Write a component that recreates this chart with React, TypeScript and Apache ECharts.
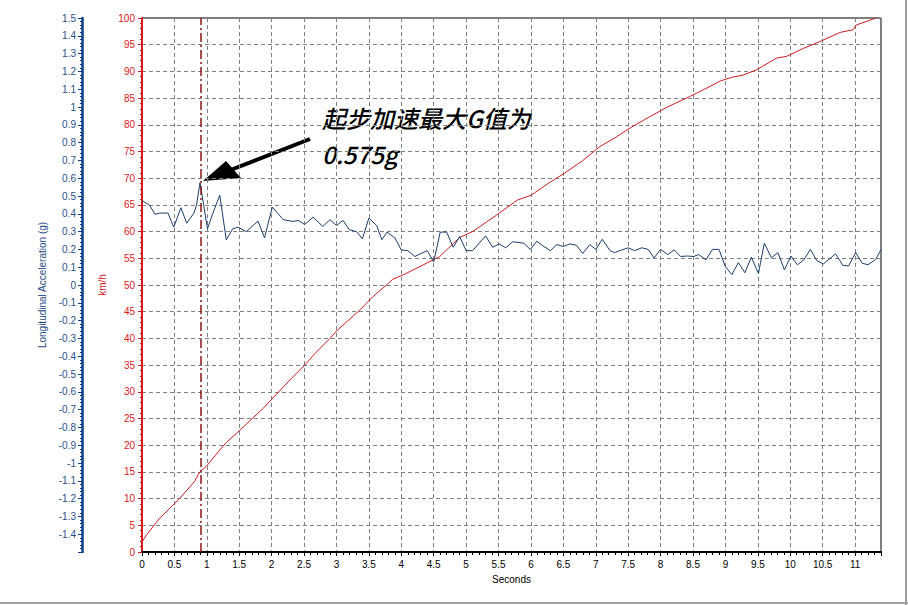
import React, { useEffect, useRef } from "react";
import * as echarts from "echarts";

// Speed (km/h) over time (s)
const speedTime = [0, 0.07, 0.27, 0.58, 0.81, 0.89, 0.99, 1.2, 1.3, 1.51, 1.71, 1.87, 2.0, 2.28, 2.51, 2.67, 2.9, 3.02, 3.36, 3.56, 3.8, 3.87, 4.03, 4.23, 4.49, 4.59, 4.9, 5.1, 5.47, 5.79, 6.0, 6.3, 6.5, 6.8, 7.06, 7.3, 7.53, 7.83, 8.1, 8.45, 8.7, 8.92, 9.1, 9.27, 9.48, 9.79, 9.94, 10.2, 10.46, 10.77, 10.97, 11.02, 11.28, 11.32];
const speedKmh = [1.9, 3.2, 6.3, 10, 13.2, 15, 16, 19.1, 20.5, 22.8, 25.1, 26.9, 28.6, 32.2, 35.0, 37.2, 40.0, 41.6, 45.3, 47.8, 50.3, 51.1, 51.9, 53.1, 54.7, 55.3, 58.9, 60, 63.1, 65.9, 66.8, 69.3, 70.8, 73.3, 75.9, 77.6, 79.4, 81.5, 83.3, 85.3, 86.8, 88.2, 88.9, 89.3, 90.3, 92.5, 92.8, 94.3, 95.6, 97.3, 97.8, 98.7, 99.8, 100];

// Longitudinal acceleration (g) over time (s)
const accelTime = [0.0, 0.12, 0.2, 0.27, 0.4, 0.49, 0.6, 0.69, 0.8, 0.84, 0.895, 1.01, 1.1, 1.2, 1.3, 1.4, 1.48, 1.61, 1.79, 1.89, 2.01, 2.18, 2.33, 2.41, 2.51, 2.64, 2.79, 2.9, 3.0, 3.1, 3.2, 3.31, 3.4, 3.5, 3.62, 3.7, 3.78, 3.9, 4.0, 4.1, 4.21, 4.29, 4.4, 4.5, 4.6, 4.7, 4.8, 4.9, 5.0, 5.1, 5.3, 5.41, 5.51, 5.61, 5.72, 5.89, 5.99, 6.09, 6.2, 6.3, 6.4, 6.5, 6.6, 6.7, 6.8, 6.91, 7.0, 7.1, 7.22, 7.29, 7.4, 7.5, 7.6, 7.71, 7.81, 7.9, 8.0, 8.11, 8.21, 8.31, 8.41, 8.51, 8.59, 8.7, 8.8, 8.9, 9.0, 9.1, 9.2, 9.3, 9.4, 9.51, 9.6, 9.71, 9.81, 9.91, 10.01, 10.11, 10.21, 10.31, 10.41, 10.51, 10.61, 10.7, 10.81, 10.9, 11.01, 11.11, 11.2, 11.32, 11.4];
const accelG = [0.475, 0.447, 0.397, 0.404, 0.404, 0.325, 0.434, 0.347, 0.404, 0.447, 0.575, 0.316, 0.41, 0.504, 0.254, 0.316, 0.325, 0.3, 0.359, 0.265, 0.438, 0.367, 0.357, 0.363, 0.34, 0.381, 0.329, 0.367, 0.334, 0.363, 0.31, 0.3, 0.259, 0.376, 0.334, 0.254, 0.297, 0.265, 0.197, 0.193, 0.16, 0.175, 0.193, 0.13, 0.297, 0.297, 0.212, 0.272, 0.193, 0.193, 0.276, 0.212, 0.231, 0.209, 0.243, 0.235, 0.2, 0.246, 0.216, 0.193, 0.227, 0.216, 0.231, 0.223, 0.178, 0.227, 0.2, 0.257, 0.193, 0.182, 0.197, 0.209, 0.193, 0.209, 0.2, 0.152, 0.2, 0.171, 0.197, 0.16, 0.163, 0.16, 0.171, 0.141, 0.2, 0.2, 0.103, 0.058, 0.126, 0.069, 0.156, 0.065, 0.235, 0.152, 0.182, 0.085, 0.163, 0.114, 0.141, 0.2, 0.137, 0.118, 0.148, 0.175, 0.111, 0.107, 0.182, 0.122, 0.114, 0.144, 0.2];

const peakTime = 0.895;
const annotationLine1 = "起步加速最大G值为";
const annotationLine2 = "0.575g";

const FONT = '"Liberation Sans", Arial, sans-serif';
const RED = "#d8191a";
const BLUE = "#0d3f8c";

export default function App() {
  const ref = useRef<HTMLDivElement>(null);

  useEffect(() => {
    if (!ref.current) return;
    const chart = echarts.init(ref.current, undefined, { renderer: "svg" });
    const fmt = (v: number) => String(Math.round(v * 10) / 10);
    const annoStyle = {
      fill: "#000",
      fontSize: 24,
      fontStyle: "italic",
      fontWeight: 500,
      fontFamily: '"Noto Sans CJK SC", sans-serif',
    };
    chart.setOption({
      animation: false,
      backgroundColor: "#ffffff",
      grid: {
        left: 142,
        right: 27,
        top: 18,
        bottom: 53,
        show: true,
        borderColor: "#000000",
        borderWidth: 1,
        backgroundColor: "transparent",
      },
      xAxis: {
        type: "value",
        min: 0,
        max: 11.4,
        interval: 0.5,
        name: "Seconds",
        nameLocation: "middle",
        nameGap: 22,
        nameTextStyle: { color: "#000", fontSize: 10, fontFamily: FONT },
        axisLine: { lineStyle: { color: "#000", width: 2 } },
        axisTick: { show: true, length: 4, lineStyle: { color: "#000" } },
        minorTick: { show: true, splitNumber: 5, length: 3, lineStyle: { color: "#000" } },
        axisLabel: { color: "#000", fontSize: 10, fontFamily: FONT, margin: 7, formatter: fmt, showMaxLabel: false },
        splitLine: { show: true, lineStyle: { color: "#808080", type: [4, 3], width: 1 } },
      },
      yAxis: [
        {
          type: "value",
          position: "left",
          min: 0,
          max: 100,
          interval: 5,
          name: "km/h",
          nameLocation: "middle",
          nameGap: 32,
          nameTextStyle: { color: RED, fontSize: 10, fontFamily: FONT },
          axisLine: { show: true, lineStyle: { color: RED, width: 2 } },
          axisTick: { show: true, length: 4, lineStyle: { color: RED } },
          minorTick: { show: true, splitNumber: 5, length: 2, lineStyle: { color: RED } },
          axisLabel: { color: RED, fontSize: 10, fontFamily: FONT, margin: 7 },
          splitLine: { show: true, lineStyle: { color: "#808080", type: [4, 3], width: 1 } },
        },
        {
          type: "value",
          position: "left",
          offset: 60,
          min: -1.5,
          max: 1.5,
          interval: 0.1,
          name: "Longitudinal Acceleration (g)",
          nameLocation: "middle",
          nameGap: 32,
          nameTextStyle: { color: "#1f4a86", fontSize: 10, fontFamily: FONT },
          axisLine: { show: true, lineStyle: { color: BLUE, width: 2.5 } },
          axisTick: { show: true, length: 4, lineStyle: { color: BLUE } },
          minorTick: { show: true, splitNumber: 5, length: 2, lineStyle: { color: BLUE } },
          axisLabel: {
            color: "#2a4f8a",
            fontSize: 10,
            fontFamily: FONT,
            margin: 6,
            formatter: (v: number) => (Math.abs(v + 1.5) < 1e-6 ? "" : fmt(v)),
          },
          splitLine: { show: false },
        },
      ],
      series: [
        {
          type: "line",
          name: "Speed",
          yAxisIndex: 0,
          data: speedTime.map((t, i) => [t, speedKmh[i]]),
          showSymbol: false,
          symbol: "none",
          lineStyle: { color: "#cc1d1d", width: 1 },
          markLine: {
            silent: true,
            symbol: "none",
            label: { show: false },
            lineStyle: { color: "#8b1414", type: [9, 3, 2, 3], width: 1.5 },
            data: [{ xAxis: peakTime }],
          },
        },
        {
          type: "line",
          name: "Acceleration",
          yAxisIndex: 1,
          data: accelTime.map((t, i) => [t, accelG[i]]),
          showSymbol: false,
          symbol: "none",
          lineStyle: { color: "#1b3e6e", width: 1 },
        },
      ],
      graphic: [
        {
          type: "text",
          left: 322,
          top: 105,
          style: { text: annotationLine1, ...annoStyle },
        },
        {
          type: "text",
          left: 322,
          top: 141,
          style: { text: annotationLine2, ...annoStyle },
        },
        {
          type: "line",
          shape: { x1: 310, y1: 139, x2: 228, y2: 171 },
          style: { stroke: "#000", lineWidth: 4 },
        },
        {
          type: "polygon",
          shape: { points: [[203, 181], [226, 161], [241, 178]] },
          style: { fill: "#000" },
        },
        {
          type: "line",
          shape: { x1: 0, y1: 603, x2: 908, y2: 603 },
          style: { stroke: "#a0a0a0", lineWidth: 2 },
        },
        {
          type: "line",
          shape: { x1: 906, y1: 0, x2: 906, y2: 605 },
          style: { stroke: "#a0a0a0", lineWidth: 2 },
        },
      ],
    });
    return () => chart.dispose();
  }, []);

  return (
    <div
      ref={ref}
      style={{ position: "fixed", left: 0, top: 0, width: 908, height: 605, background: "#fff" }}
    />
  );
}
